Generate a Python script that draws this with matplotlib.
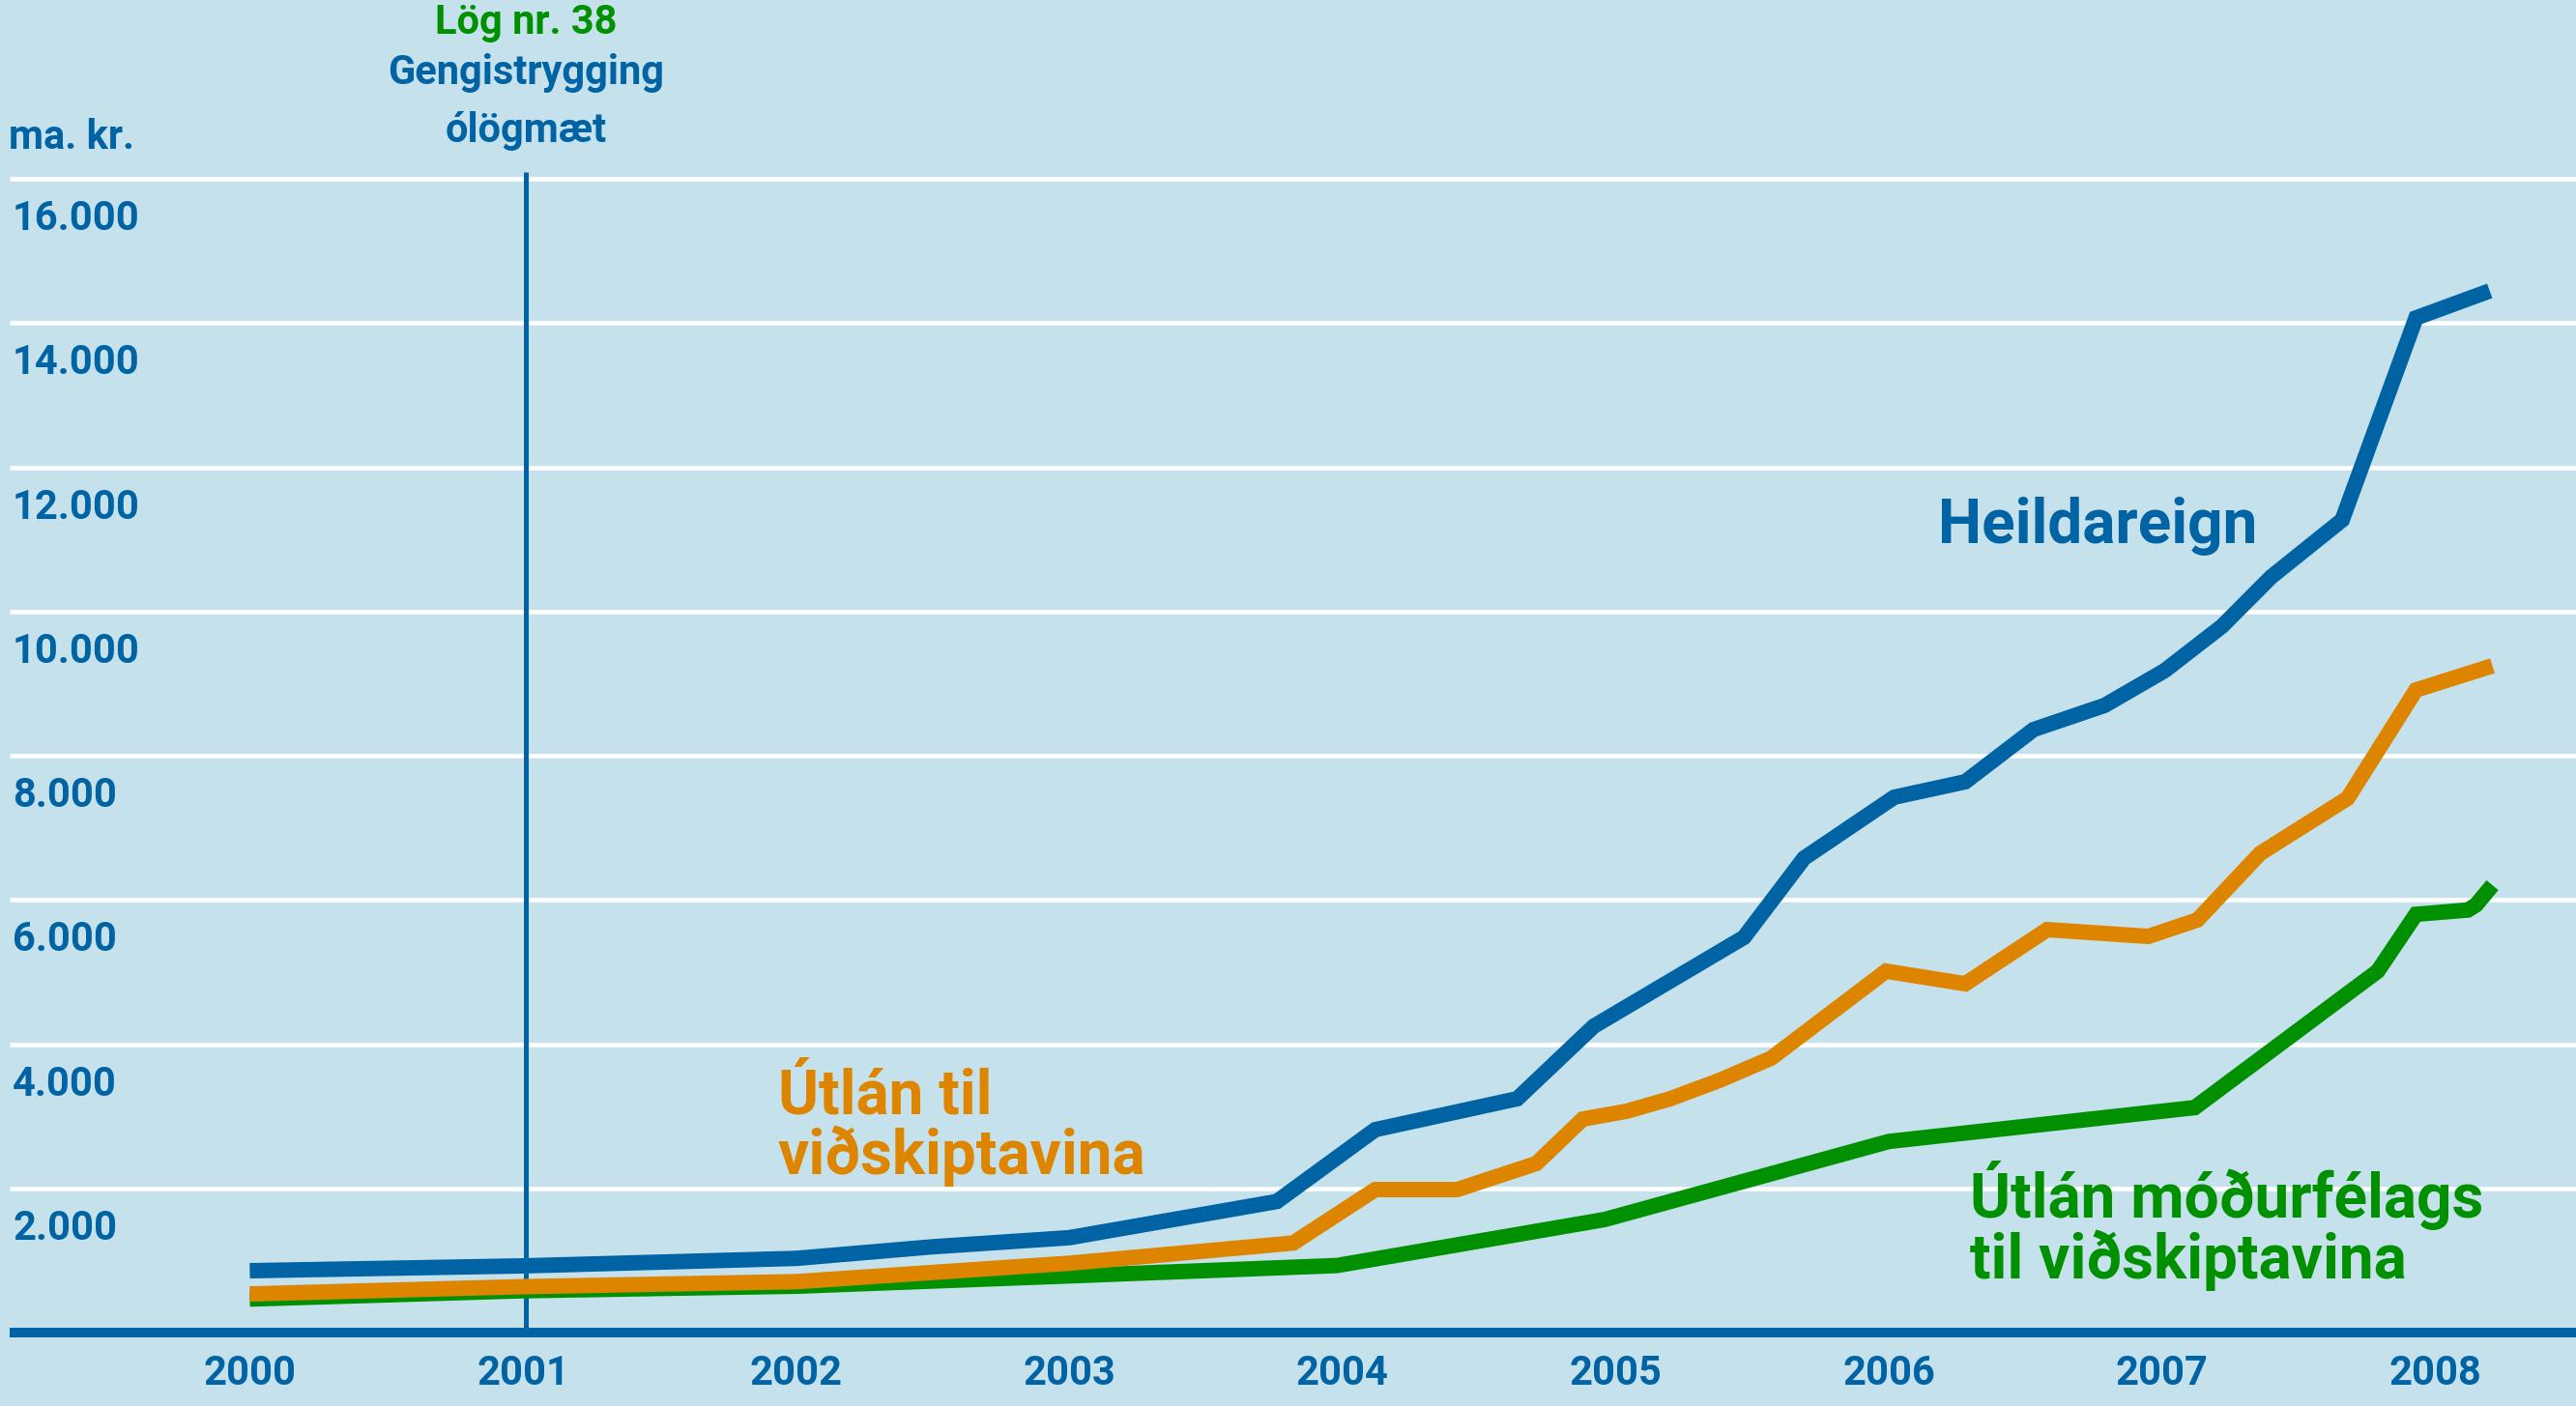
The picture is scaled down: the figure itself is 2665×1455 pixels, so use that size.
import numpy as np
import matplotlib.pyplot as plt

plt.rcParams['font.family'] = ['Roboto', 'DejaVu Sans']

BG = "#c5e1ec"
BLUE = "#0063a3"
ORANGE = "#de8500"
GREEN = "#009000"

# Heildareign (total assets), ma. kr.
heild_x = [2000.0, 2001.0, 2002.0, 2002.5, 2003.0, 2003.76, 2004.12, 2004.64, 2004.92,
           2005.47, 2005.69, 2006.02, 2006.28, 2006.53, 2006.79, 2007.01, 2007.22,
           2007.40, 2007.66, 2007.93, 2008.20]
heild_y = [858, 925, 1029, 1190, 1316, 1818, 2814, 3243, 4248,
           5481, 6579, 7424, 7638, 8362, 8697, 9179, 9795,
           10479, 11269, 14070, 14445]

# Útlán til viðskiptavina
utlan_x = [2000.0, 2001.0, 2002.0, 2003.0, 2003.82, 2004.12, 2004.42, 2004.71, 2004.88,
           2005.04, 2005.20, 2005.38, 2005.57, 2005.99, 2006.28, 2006.58, 2006.95,
           2007.13, 2007.36, 2007.68, 2007.93, 2008.21]
utlan_y = [536, 637, 706, 962, 1242, 1983, 1983, 2345, 2961,
           3069, 3243, 3497, 3806, 5012, 4837, 5588, 5494,
           5722, 6646, 7410, 8911, 9246]

# Útlán móðurfélags til viðskiptavina
modur_x = [2000.0, 2001.0, 2002.0, 2003.0, 2003.98, 2004.96, 2006.0, 2007.12,
           2007.79, 2007.93, 2008.12, 2008.15, 2008.21]
modur_y = [465, 580, 643, 786, 930, 1568, 2650, 3120,
           5012, 5800, 5860, 5930, 6204]

years = [2000, 2001, 2002, 2003, 2004, 2005, 2006, 2007, 2008]
yticks = [2000, 4000, 6000, 8000, 10000, 12000, 14000, 16000]
ytick_labels = ["2.000", "4.000", "6.000", "8.000", "10.000", "12.000", "14.000", "16.000"]

fig = plt.figure(figsize=(26.65, 14.55), dpi=100)
fig.patch.set_facecolor(BG)
ax = fig.add_axes([0, 0, 1, 1])
ax.set_facecolor(BG)
ax.set_xlim(1999.0856, 2008.5159)
ax.set_ylim(-1018, 18479)
ax.axis("off")

FS = 30
x_left = 1999.12

# gridlines
ax.hlines(yticks, x_left, 2008.52, colors="white", linewidth=3.3, zorder=1)

# y labels, sitting just under their gridline
for v, lab in zip(yticks, ytick_labels):
    ax.text(1999.132, v - 711, lab, ha="left", va="baseline", fontsize=FS,
            fontweight="bold", color=BLUE)
ax.text(1999.118, 16415, "ma. kr.", ha="left", va="baseline", fontsize=FS,
        fontweight="bold", color=BLUE)

# year labels
for yr in years:
    ax.text(yr, -724, str(yr), ha="center", va="baseline", fontsize=FS,
            fontweight="bold", color=BLUE)

# vertical marker at 2001
ax.vlines(2001.01, 0, 16100, colors=BLUE, linewidth=3.6, zorder=2)
ax.text(2001.01, 18010, "Lög nr. 38", ha="center", va="baseline", fontsize=FS,
        fontweight="bold", color=GREEN)
ax.text(2001.01, 17319, "Gengistrygging", ha="center", va="baseline", fontsize=FS,
        fontweight="bold", color=BLUE)
ax.text(2001.01, 16509, "ólögmæt", ha="center", va="baseline", fontsize=FS,
        fontweight="bold", color=BLUE)

# series
lw = 11.5
ax.plot(modur_x, modur_y, color=GREEN, linewidth=lw, solid_capstyle="butt",
        solid_joinstyle="miter", zorder=3)
ax.plot(utlan_x, utlan_y, color=ORANGE, linewidth=lw, solid_capstyle="butt",
        solid_joinstyle="miter", zorder=4)
ax.plot(heild_x, heild_y, color=BLUE, linewidth=lw, solid_capstyle="butt",
        solid_joinstyle="miter", zorder=5)

# x axis line
ax.hlines(0, x_left, 2008.52, colors=BLUE, linewidth=7.2, zorder=6)

# series labels
BIG = 46
ax.text(2006.18, 10948, "Heildareign", ha="left", va="baseline", fontsize=BIG,
        fontweight="bold", color=BLUE)
ax.text(2001.933, 3042, "Útlán til", ha="left", va="baseline", fontsize=BIG,
        fontweight="bold", color=ORANGE)
ax.text(2001.933, 2198, "viðskiptavina", ha="left", va="baseline", fontsize=BIG,
        fontweight="bold", color=ORANGE)
ax.text(2006.297, 1595, "Útlán móðurfélags", ha="left", va="baseline", fontsize=BIG,
        fontweight="bold", color=GREEN)
ax.text(2006.297, 750, "til viðskiptavina", ha="left", va="baseline", fontsize=BIG,
        fontweight="bold", color=GREEN)

plt.savefig("out.png", dpi=100, facecolor=BG)
